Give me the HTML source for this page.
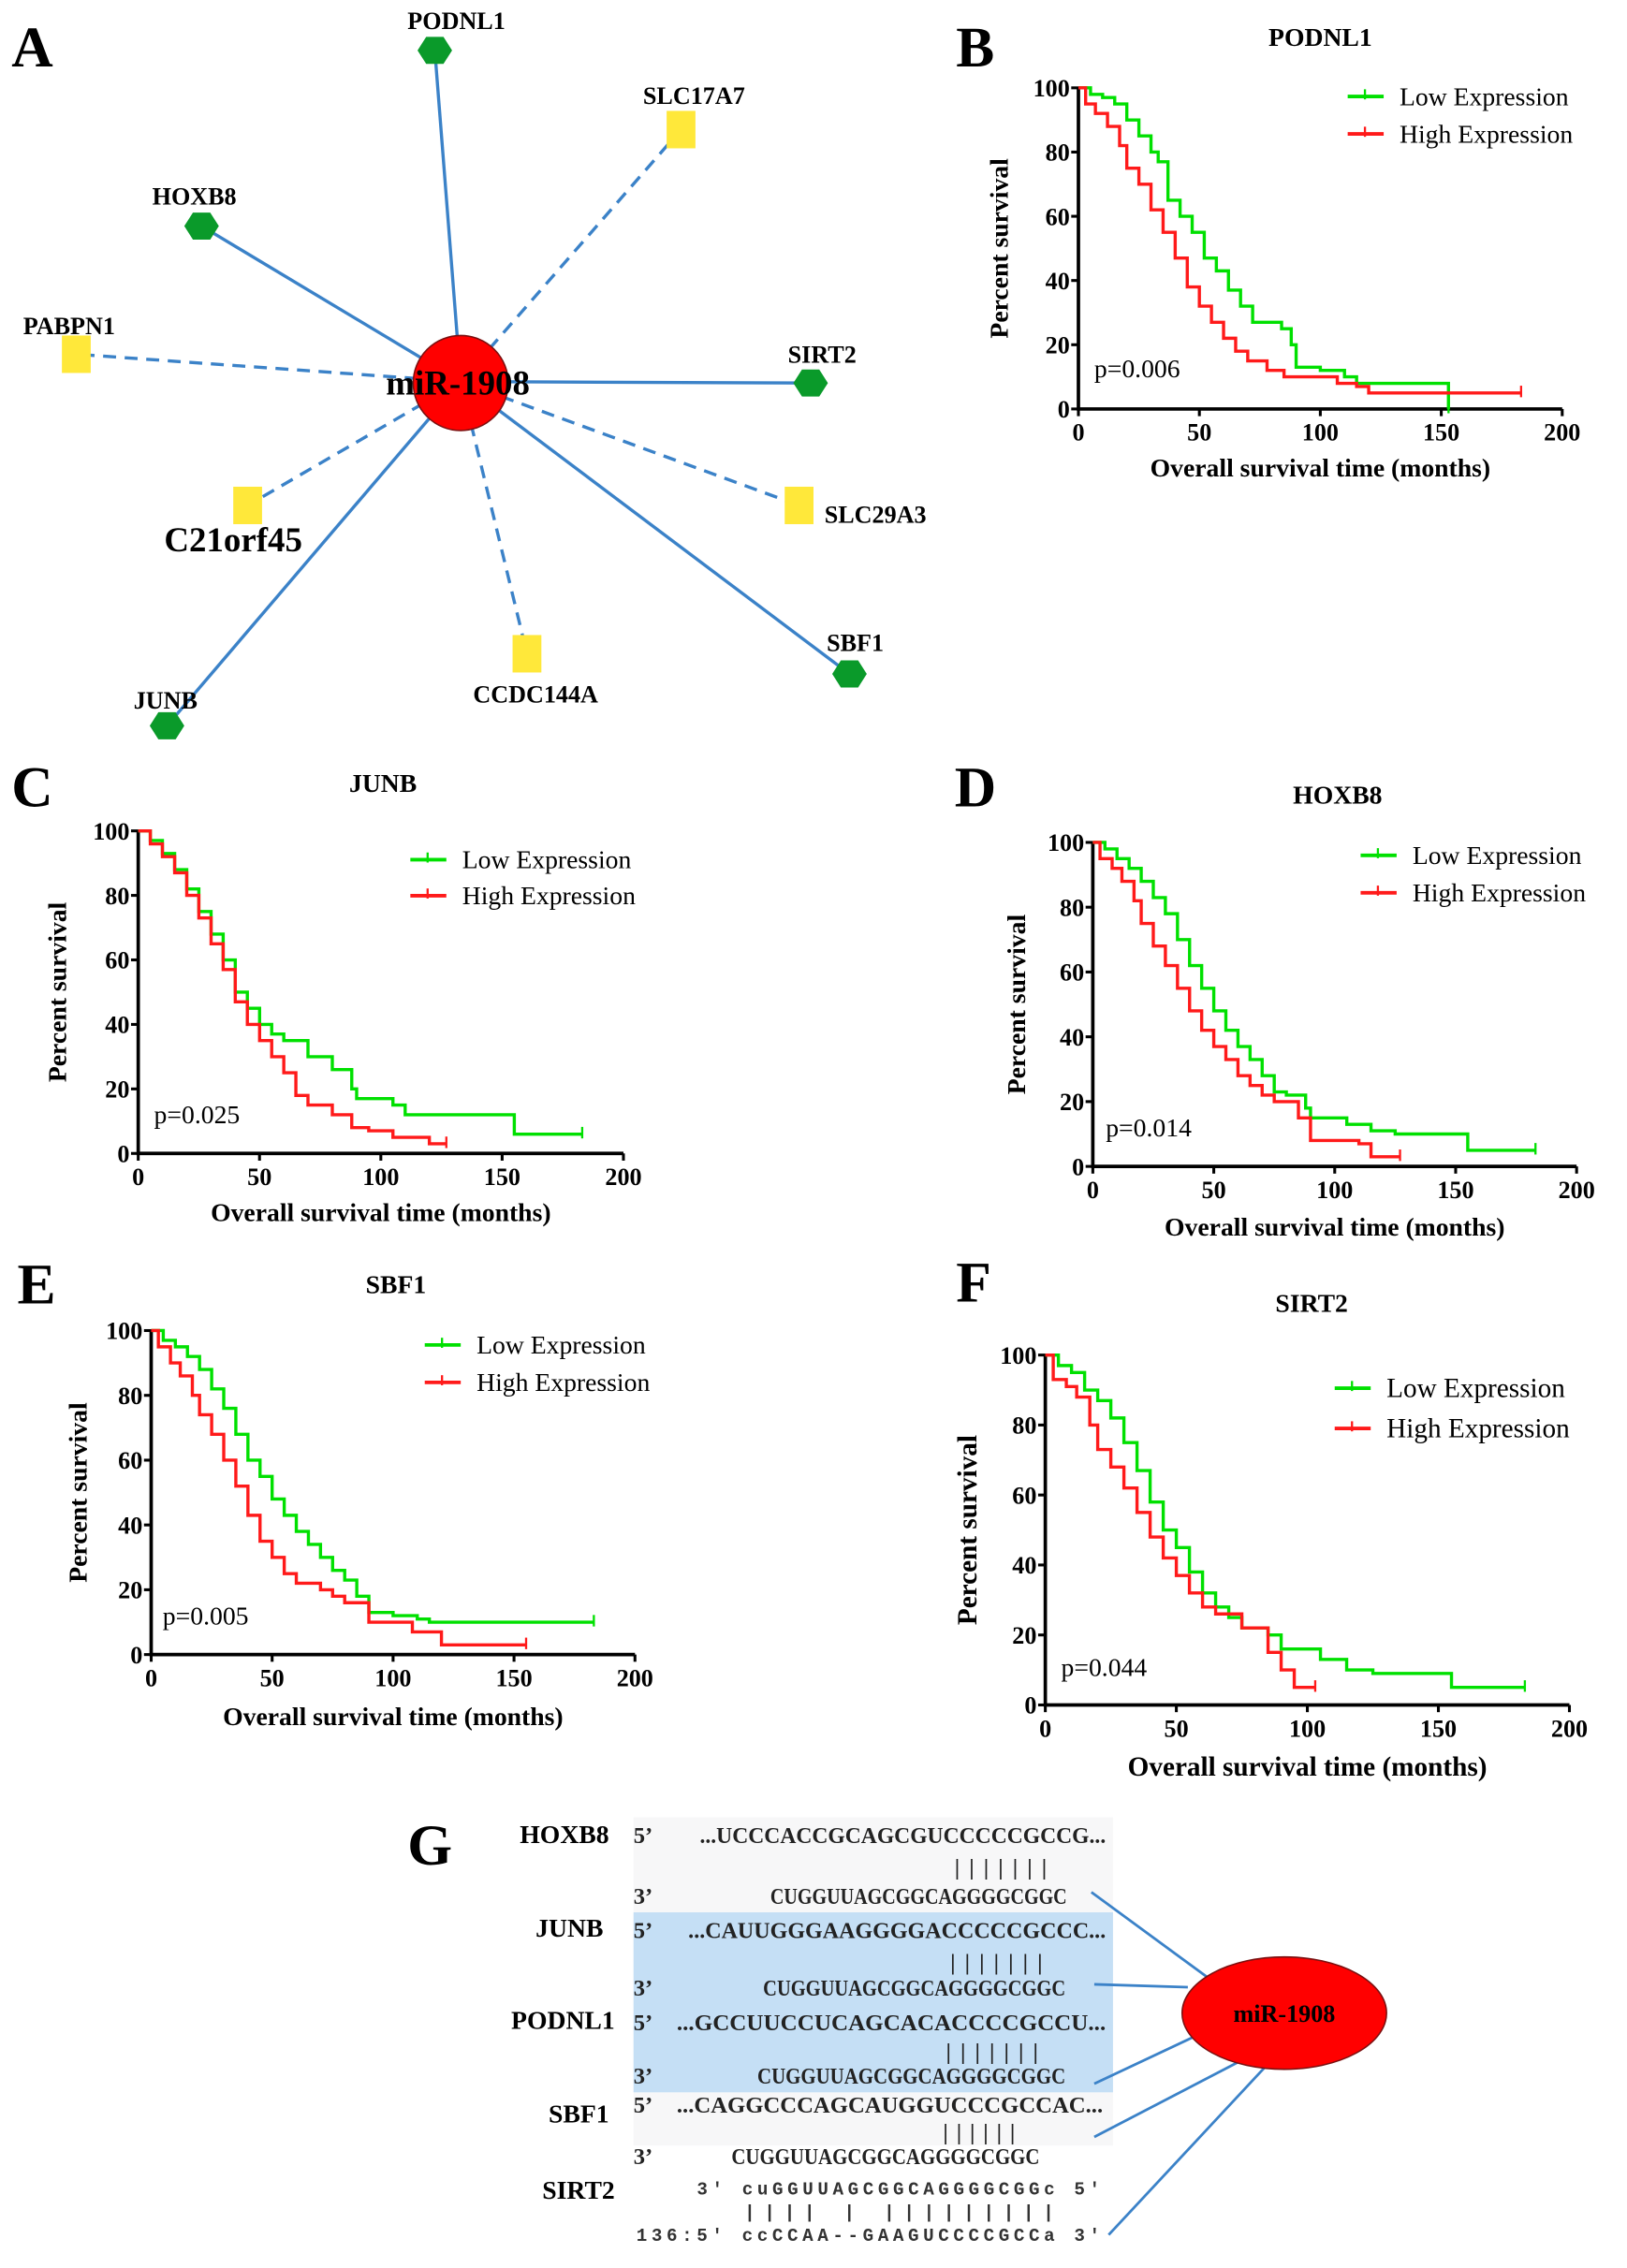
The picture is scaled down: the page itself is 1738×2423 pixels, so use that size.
<!DOCTYPE html>
<html><head><meta charset="utf-8">
<style>
html,body{margin:0;padding:0;background:#fff;}
svg{display:block;}
text{font-family:"Liberation Serif",serif;}
</style></head>
<body>
<svg id="fig" width="1738" height="2423" viewBox="0 0 1130 1575" preserveAspectRatio="none" xmlns="http://www.w3.org/2000/svg">
<rect x="0" y="0" width="1130" height="1575" fill="#fff"/>

<g id="panelA">
<text x="8" y="46" font-size="40" font-weight="bold">A</text>
<g stroke="#3b82c8" stroke-width="2.2" fill="none">
<line x1="320" y1="265" x2="302" y2="35"/>
<line x1="320" y1="265" x2="140" y2="157"/>
<line x1="320" y1="265" x2="563" y2="266"/>
<line x1="320" y1="265" x2="590" y2="468"/>
<line x1="320" y1="265" x2="116" y2="504"/>
<g stroke-dasharray="9,6">
<line x1="320" y1="265" x2="473" y2="90"/>
<line x1="320" y1="265" x2="53" y2="246"/>
<line x1="320" y1="265" x2="172" y2="351"/>
<line x1="320" y1="265" x2="555" y2="351"/>
<line x1="320" y1="265" x2="366" y2="454"/>
</g></g>
<g id="nodes"></g>
<circle cx="320" cy="266" r="33" fill="#f00" stroke="#7a1010" stroke-width="1"/>
<text x="318" y="274" font-size="24" font-weight="bold" text-anchor="middle">miR-1908</text>
</g>

<g id="charts"></g>

<g id="panelG" font-weight="bold">
<text x="283" y="1295" font-size="40">G</text>
<rect x="440" y="1262" width="333" height="228" fill="#f7f7f8"/>
<rect x="440" y="1328" width="333" height="125" fill="#c5dff5"/>
<g stroke="#3b82c8" stroke-width="1.8">
<line x1="758" y1="1314" x2="848" y2="1380"/>
<line x1="760" y1="1378" x2="825" y2="1380"/>
<line x1="760" y1="1447" x2="828" y2="1415"/>
<line x1="760" y1="1484" x2="860" y2="1432"/>
<line x1="770" y1="1552" x2="880" y2="1434"/>
</g>
<ellipse cx="892" cy="1398" rx="71" ry="39" fill="#f00" stroke="#7a1010" stroke-width="1"/>
<text x="892" y="1404" font-size="17" text-anchor="middle">miR-1908</text>
<g font-size="18" text-anchor="end">
<text x="423" y="1280">HOXB8</text>
<text x="419" y="1345">JUNB</text>
<text x="427" y="1409">PODNL1</text>
<text x="423" y="1474">SBF1</text>
<text x="427" y="1527">SIRT2</text>
</g>
<g font-size="16" font-weight="bold" fill="#222">
<text x="440" y="1280">5’</text>
<text x="486" y="1280" textLength="282" lengthAdjust="spacingAndGlyphs">...UCCCACCGCAGCGUCCCCCGCCG...</text>
<text x="663" y="1302" textLength="64" lengthAdjust="spacing">|||||||</text>
<text x="440" y="1322">3’</text>
<text x="535" y="1322" textLength="206" lengthAdjust="spacingAndGlyphs">CUGGUUAGCGGCAGGGGCGGC</text>
<text x="440" y="1346">5’</text>
<text x="478" y="1346" textLength="290" lengthAdjust="spacingAndGlyphs">...CAUUGGGAAGGGGACCCCCGCCC...</text>
<text x="660" y="1368" textLength="64" lengthAdjust="spacing">|||||||</text>
<text x="440" y="1386">3’</text>
<text x="530" y="1386" textLength="210" lengthAdjust="spacingAndGlyphs">CUGGUUAGCGGCAGGGGCGGC</text>
<text x="440" y="1410">5’</text>
<text x="470" y="1410" textLength="298" lengthAdjust="spacingAndGlyphs">...GCCUUCCUCAGCACACCCCGCCU...</text>
<text x="657" y="1430" textLength="64" lengthAdjust="spacing">|||||||</text>
<text x="440" y="1447">3’</text>
<text x="526" y="1447" textLength="214" lengthAdjust="spacingAndGlyphs">CUGGUUAGCGGCAGGGGCGGC</text>
<text x="440" y="1467">5’</text>
<text x="470" y="1467" textLength="296" lengthAdjust="spacingAndGlyphs">...CAGGCCCAGCAUGGUCCCGCCAC...</text>
<text x="655" y="1486" textLength="50" lengthAdjust="spacing">||||||</text>
<text x="440" y="1503">3’</text>
<text x="508" y="1503" textLength="214" lengthAdjust="spacingAndGlyphs">CUGGUUAGCGGCAGGGGCGGC</text>
</g>
<g font-size="12.5" font-weight="bold" fill="#333">
<text x="484" y="1524" textLength="280" lengthAdjust="spacing" style="font-family:'Liberation Mono',monospace">3' cuGGUUAGCGGCAGGGGCGGc 5'</text>
<text x="517" y="1540" style="font-family:'Liberation Mono',monospace" textLength="215" lengthAdjust="spacing">||||  |  |||||||||</text>
<text x="442" y="1556" textLength="322" lengthAdjust="spacing" style="font-family:'Liberation Mono',monospace">136:5' ccCCAA--GAAGUCCCCGCCa 3'</text>
</g>
</g>
</svg>

<script>
const nodeNames = ["PODNL1","SLC17A7","HOXB8","PABPN1","SIRT2","C21orf45","SLC29A3","CCDC144A","SBF1","JUNB"];
const nodeKinds = ["hex","sq","hex","sq","hex","sq","sq","sq","hex","hex"];
const nodeX = [302,473,140,53,563,172,555,366,590,116];
const nodeY = [35,90,157,246,266,351,351,454,468,504];
const labelX = [317,482,135,48,571,162,608,372,594,115];
const labelY = [20,72,142,232,252,383,363,488,452,492];
const labelSize = [17,17,17,17,17,24,17,17,17,17];
const NS = "http://www.w3.org/2000/svg";
const nodesG = document.getElementById('nodes');
function mk(tag, attrs, parent){const e=document.createElementNS(NS,tag);for(const k in attrs)e.setAttribute(k,attrs[k]);parent.appendChild(e);return e;}
nodeNames.forEach((n,i)=>{
  let shape;
  if(nodeKinds[i]==="hex"){
    const cx=nodeX[i],cy=nodeY[i],r=12;let pts=[];
    for(let k=0;k<6;k++){const a=Math.PI/3*k;pts.push((cx+r*Math.cos(a)).toFixed(1)+","+(cy+r*0.9*Math.sin(a)).toFixed(1));}
    shape=mk('polygon',{points:pts.join(' '),fill:'#0a9a2a'},nodesG);
  } else {
    shape=mk('rect',{x:nodeX[i]-10,y:nodeY[i]-13,width:20,height:26,fill:'#ffe83a'},nodesG);
  }
  
  
  const t=mk('text',{x:labelX[i],y:labelY[i],'font-size':labelSize[i],'font-weight':'bold','text-anchor':'middle'},nodesG);
  t.textContent=n;
  
  
});

const xTicks = [0,50,100,150,200];
const yTicks = [0,20,40,60,80,100];
const panelTitles = ["PODNL1","JUNB","HOXB8","SBF1","SIRT2"];
const panelLetters = ["B","C","D","E","F"];
const pValues = ["p=0.006","p=0.025","p=0.014","p=0.005","p=0.044"];
const lowT = [
 [0,5,10,15,20,25,30,33,37,42,47,52,57,62,67,72,78,84,88,90,95,100,108,110,115,150,153],
 [0,5,10,15,20,25,30,35,40,45,50,55,60,70,80,88,90,105,110,150,155,183],
 [0,5,10,15,20,25,30,35,40,45,50,55,60,65,70,75,80,88,90,105,115,125,150,155,183],
 [0,5,10,15,20,25,30,35,40,45,50,55,60,65,70,75,80,85,90,100,110,115,183],
 [0,5,10,15,20,25,30,35,40,45,50,55,60,65,70,75,85,90,105,115,125,155,183]];
const lowS = [
 [100,98,97,95,90,85,80,77,65,60,55,47,43,37,32,27,27,25,20,13,13,12,12,10,8,8,0],
 [100,97,93,88,82,75,68,60,50,45,40,37,35,30,26,20,17,15,12,12,6,6],
 [100,98,95,92,88,83,78,70,62,55,48,42,37,33,28,23,22,18,15,13,11,10,10,5,5],
 [100,97,95,92,88,82,76,68,60,55,48,43,38,34,30,26,23,18,13,12,11,10,10],
 [100,97,95,90,87,82,75,67,58,50,45,38,32,28,25,22,20,16,13,10,9,5,5]];
const highT = [
 [0,3,7,12,17,20,25,30,35,40,45,50,55,60,65,70,78,85,100,107,115,120,183],
 [0,5,10,15,20,25,30,35,40,45,50,55,60,65,70,80,88,95,105,120,127],
 [0,3,8,12,17,20,25,30,35,40,45,50,55,60,65,70,75,85,90,110,115,127],
 [0,3,8,12,17,20,25,30,35,40,45,50,55,60,70,75,80,90,100,108,120,155],
 [0,3,8,12,17,20,25,30,35,40,45,50,55,60,65,75,85,90,95,103]];
const highS = [
 [100,95,92,88,82,75,70,62,55,47,38,32,27,22,18,15,12,10,10,8,7,5,5],
 [100,96,92,87,80,73,65,57,47,40,35,30,25,18,15,12,8,7,5,3,3],
 [100,95,92,88,82,75,68,62,55,48,42,37,33,28,25,22,20,15,8,7,3,3],
 [100,95,90,86,80,74,68,60,52,43,35,30,25,22,20,18,16,10,10,7,3,3],
 [100,93,91,88,80,73,68,62,55,48,42,37,32,28,26,22,15,10,5,5]];

const L = [
 {ox:749,oy:284,xe:1085,yt:61, tx:917,ty:32, lx:664,ly:46, legY:[67,93],legX:936,pX:760,pY:262,ylX:700,xlY:331,fs:18},
 {ox:96,oy:801,xe:433,yt:577, tx:266,ty:550,lx:8,ly:560, legY:[597,622],legX:285,pX:107,pY:780,ylX:46,xlY:848,fs:18},
 {ox:759,oy:810,xe:1095,yt:585,tx:929,ty:558,lx:663,ly:560,legY:[594,620],legX:945,pX:768,pY:789,ylX:712,xlY:858,fs:18},
 {ox:105,oy:1149,xe:441,yt:924,tx:275,ty:898,lx:12,ly:905,legY:[934,960],legX:295,pX:113,pY:1128,ylX:60,xlY:1198,fs:18},
 {ox:726,oy:1184,xe:1090,yt:941,tx:911,ty:911,lx:664,ly:904,legY:[964,992],legX:927,pX:737,pY:1164,ylX:678,xlY:1233,fs:19}];

const charts=document.getElementById('charts');
L.forEach((p,i)=>{
  const g=mk('g',{},charts);
  
  
  const xs=v=>p.ox+(p.xe-p.ox)*v/200;
  const ys=v=>p.oy-(p.oy-p.yt)*v/100;
  const let_=mk('text',{x:p.lx,y:p.ly,'font-size':40,'font-weight':'bold'},g);let_.textContent=panelLetters[i];
  
  
  const tt=mk('text',{x:p.tx,y:p.ty,'font-size':18,'font-weight':'bold','text-anchor':'middle'},g);tt.textContent=panelTitles[i];
  
  
  const ax=mk('path',{d:`M${xs(0)},${ys(100)} V${ys(0)} H${xs(200)}`,stroke:'#000','stroke-width':2.4,fill:'none'},g);
  
  
  xTicks.forEach(t=>{
    mk('line',{x1:xs(t),x2:xs(t),y1:ys(0),y2:ys(0)+5,stroke:'#000','stroke-width':2},g);
    const e=mk('text',{x:xs(t),y:ys(0)+22,'font-size':17,'font-weight':'bold','text-anchor':'middle'},g);e.textContent=t;
    
    
  });
  yTicks.forEach(t=>{
    mk('line',{x1:xs(0)-5,x2:xs(0),y1:ys(t),y2:ys(t),stroke:'#000','stroke-width':2},g);
    const e=mk('text',{x:xs(0)-6,y:ys(t)+6,'font-size':17,'font-weight':'bold','text-anchor':'end'},g);e.textContent=t;
    
    
  });
  const yl=mk('text',{x:p.ylX,y:(ys(0)+ys(100))/2,'font-size':p.fs,'font-weight':'bold','text-anchor':'middle',transform:`rotate(-90 ${p.ylX} ${(ys(0)+ys(100))/2})`},g);
  yl.textContent='Percent survival';
  
  
  const xl=mk('text',{x:(xs(0)+xs(200))/2,y:p.xlY,'font-size':p.fs,'font-weight':'bold','text-anchor':'middle'},g);
  xl.textContent='Overall survival time (months)';
  
  
  const pv=mk('text',{x:p.pX,y:p.pY,'font-size':18},g);pv.textContent=pValues[i];
  
  
  [[lowT[i],lowS[i],'#00e000','low'],[highT[i],highS[i],'#ff1a1a','high']].forEach(([T,S,c,nm])=>{
    let d=`M${xs(T[0])},${ys(S[0])}`;
    for(let k=1;k<T.length;k++){d+=` H${xs(T[k]).toFixed(1)} V${ys(S[k]).toFixed(1)}`;}
    const pa=mk('path',{d:d,stroke:c,'stroke-width':2.2,fill:'none'},g);
    
    
    const last=T.length-1;
    mk('line',{x1:xs(T[last]),x2:xs(T[last]),y1:ys(S[last])-5,y2:ys(S[last])+3,stroke:c,'stroke-width':1.5},g);
  });
  [['Low Expression','#00e000'],['High Expression','#ff1a1a']].forEach(([lab,c],k)=>{
    const y=p.legY[k];
    mk('line',{x1:p.legX,x2:p.legX+25,y1:y,y2:y,stroke:c,'stroke-width':2.5},g);
    mk('line',{x1:p.legX+12,x2:p.legX+12,y1:y-5,y2:y+2,stroke:c,'stroke-width':1.5},g);
    const e=mk('text',{x:p.legX+36,y:y+6,'font-size':p.fs},g);e.textContent=lab;
    
    
  });
});
</script>
</body></html>
